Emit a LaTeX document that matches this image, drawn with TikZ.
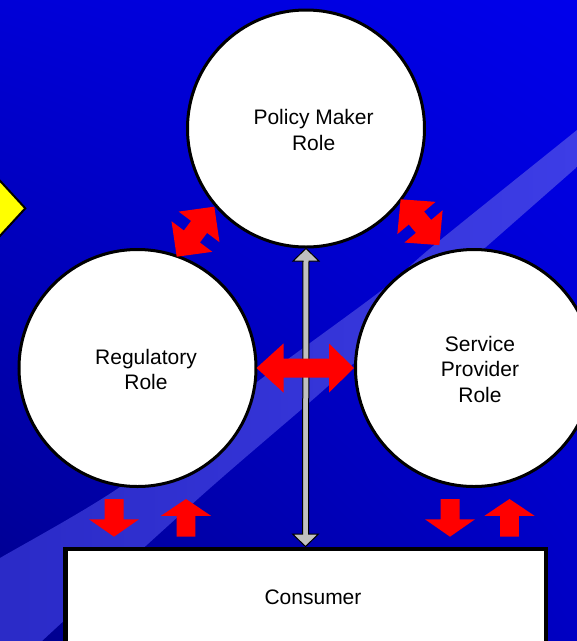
\documentclass[tikz,border=0pt]{standalone}
\usepackage{fontspec}
\setmainfont{Liberation Sans}
\usetikzlibrary{calc,shadings}
\definecolor{bgTL}{RGB}{0,0,215}
\definecolor{bgTR}{RGB}{0,0,235}
\definecolor{bgBL}{RGB}{0,0,140}
\definecolor{bgBR}{RGB}{0,0,195}
\definecolor{bandL}{RGB}{42,42,198}
\definecolor{bandR}{RGB}{62,62,232}
\definecolor{arrowred}{RGB}{255,0,0}
\definecolor{arrowgray}{RGB}{192,192,192}
\definecolor{signyellow}{RGB}{255,255,0}
\tikzset{
  role/.style={circle, draw=black, line width=3pt, fill=white, minimum size=237pt, inner sep=0pt},
  cons/.style={rectangle, draw=black, line width=4.5pt, fill=white, minimum width=480.5pt, minimum height=96.5pt, inner sep=0pt},
  lbl/.style={align=center, font=\fontsize{21}{25.5}\selectfont, text=black, inner sep=0pt},
  redarrow/.style={fill=arrowred},
  grayarrow/.style={fill=arrowgray, draw=black, line width=1pt},
}
\newcommand{\redDbl}[6]{%
  \begin{scope}[shift={#1}, rotate=#2]
    \fill[redarrow] (-#3,0) -- (-#4,#5) -- (-#4,#6) -- (#4,#6) -- (#4,#5) -- (#3,0)
      -- (#4,-#5) -- (#4,-#6) -- (-#4,-#6) -- (-#4,-#5) -- cycle;
  \end{scope}}
\newcommand{\redDown}[1]{%
  \fill[redarrow] (#1-9.5,499) -- (#1+9.5,499) -- (#1+9.5,519.3) -- (#1+25,519.3)
    -- (#1,536.7) -- (#1-25,519.3) -- (#1-9.5,519.3) -- cycle;}
\newcommand{\redUp}[1]{%
  \fill[redarrow] (#1-9.3,536.7) -- (#1+9.3,536.7) -- (#1+9.3,515.8) -- (#1+25,515.8)
    -- (#1,499) -- (#1-25,515.8) -- (#1-9.3,515.8) -- cycle;}
\begin{document}
\begin{tikzpicture}[x=1pt, y=-1pt]
\useasboundingbox (0,0) rectangle (577,641);
\clip (0,0) rectangle (577,641);
% background
\shade[upper left=bgTL, upper right=bgTR, lower left=bgBL, lower right=bgBR] (0,0) rectangle (577,641);
% light diagonal band
\shade[left color=bandL, right color=bandR]
  plot[smooth] coordinates {(-10,564) (0,558) (120,487) (257,382) (382,290) (433,246) (577,130) (600,111)}
  -- plot[smooth] coordinates {(600,147) (577,167) (353,364) (310,402) (200,497) (42,641) (20,665)}
  -- (-10,665) -- cycle;
% yellow sign at left edge
\filldraw[fill=signyellow, draw=black, line width=2pt] (-20,159) -- (25.3,208.3) -- (-20,257.6) -- cycle;
% roles
\node[role, label={[lbl, xshift=7.6pt, yshift=-1.5pt]center:Policy Maker\\Role}] (policy) at (306,128.5) {};
\node[role, label={[lbl, xshift=8.5pt, yshift=-1.5pt]center:Regulatory\\Role}] (reg) at (137.5,368) {};
\node[role, label={[lbl, xshift=6pt, yshift=-1pt]center:Service\\Provider\\Role}] (sp) at (474,368) {};
\node[cons, label={[lbl, xshift=7.5pt]center:Consumer}] (consumer) at (305.5,597) {};
% gray double arrow policy <-> consumer
\filldraw[grayarrow] (policy.south) -- ++(13,12.5) -- ++(-10,0)
  -- ($(consumer.north)+(3,-12.5)$) -- ++(10,0) -- (consumer.north)
  -- ++(-13,-12.5) -- ++(10,0) -- ($(policy.south)+(-3,12.5)$) -- ++(-10,0) -- cycle;
% red horizontal double arrow regulatory <-> service provider
\fill[redarrow] ([xshift=-1pt]reg.east) -- ++(27,-24.5) -- ++(0,15)
  -- ($(sp.west)+(-25,-9.5)$) -- ++(0,-15) -- (sp.west) -- ++(-25,24.5) -- ++(0,-15)
  -- ($([xshift=-1pt]reg.east)+(27,9.5)$) -- ++(0,15) -- cycle;
% red diagonal double arrows
\coordinate (dl) at (195.5,231.7);
\coordinate (dr) at (420,222.2);
\redDbl{(dl)}{53.1}{31.3}{6}{25.5}{10}
\redDbl{(dr)}{-49.8}{30}{5.5}{25}{10}
% red arrows to and from consumer
\redDown{114}
\redUp{186}
\redDown{450}
\redUp{509.5}
\end{tikzpicture}
\end{document}
